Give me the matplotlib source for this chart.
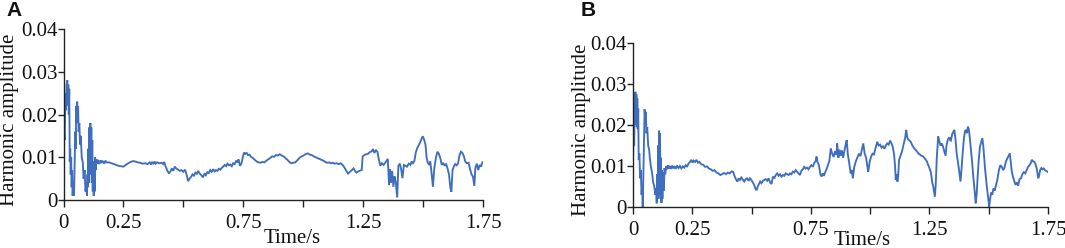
import matplotlib
matplotlib.use("Agg")
import matplotlib.pyplot as plt

# ---------------- data ----------------
time_a = [0.000,0.002,0.005,0.008,0.010,0.013,0.016,0.018,0.020,0.022,0.024,0.026,0.028,0.030,0.032,0.034,0.036,0.038,0.041,0.044,
0.047,0.049,0.051,0.053,0.055,0.057,0.059,0.061,0.063,0.066,0.069,0.072,0.076,0.080,0.084,0.088,0.092,0.095,0.098,0.100,
0.102,0.104,0.106,0.108,0.110,0.112,0.114,0.116,0.118,0.120,0.122,0.124,0.126,0.128,0.130,0.132,0.134,0.137,0.140,0.143,
0.147,0.150,0.154,0.158,0.162,0.166,0.170,0.175,0.180,0.190,0.200,0.210,0.220,0.230,0.240,0.250,0.260,0.270,0.280,0.290,
0.300,0.310,0.320,0.330,0.340,0.350,0.360,0.365,0.370,0.375,0.380,0.385,0.390,0.400,0.410,0.415,0.420,0.425,0.432,0.440,
0.447,0.452,0.458,0.464,0.470,0.478,0.485,0.492,0.500,0.507,0.514,0.520,0.526,0.532,0.538,0.544,0.550,0.556,0.562,0.568,
0.575,0.582,0.588,0.594,0.600,0.606,0.612,0.618,0.624,0.630,0.636,0.642,0.648,0.654,0.660,0.666,0.672,0.678,0.684,0.690,
0.696,0.702,0.708,0.714,0.720,0.726,0.730,0.736,0.742,0.748,0.753,0.758,0.764,0.770,0.776,0.782,0.790,0.798,0.806,0.814,
0.822,0.830,0.838,0.846,0.854,0.862,0.870,0.878,0.886,0.894,0.902,0.910,0.918,0.926,0.934,0.942,0.950,0.958,0.966,0.974,
0.982,0.990,0.998,1.006,1.014,1.020,1.028,1.036,1.044,1.052,1.060,1.068,1.076,1.084,1.092,1.100,1.108,1.116,1.124,1.132,
1.140,1.148,1.156,1.164,1.172,1.180,1.187,1.195,1.203,1.210,1.216,1.222,1.230,1.238,1.244,1.248,1.255,1.262,1.270,1.278,
1.286,1.291,1.297,1.303,1.310,1.316,1.322,1.328,1.335,1.342,1.348,1.353,1.358,1.362,1.366,1.371,1.376,1.381,1.386,1.392,
1.397,1.403,1.408,1.414,1.420,1.427,1.433,1.440,1.447,1.452,1.458,1.464,1.470,1.476,1.482,1.488,1.494,1.499,1.505,1.510,
1.515,1.520,1.526,1.530,1.536,1.541,1.547,1.554,1.560,1.566,1.572,1.578,1.584,1.590,1.596,1.602,1.608,1.614,1.618,1.623,
1.628,1.634,1.640,1.646,1.652,1.658,1.664,1.670,1.676,1.682,1.690,1.696,1.702,1.708,1.714,1.718,1.724,1.730,1.736,1.742,
1.747]
amp_a = [0.000,0.016,0.014,0.025,0.021,0.027,0.028,0.022,0.027,0.020,0.026,0.009,0.012,0.006,0.010,0.003,0.007,0.001,0.004,0.001,
0.010,0.016,0.012,0.022,0.018,0.023,0.019,0.022,0.016,0.018,0.013,0.015,0.010,0.009,0.005,0.007,0.002,0.004,0.001,0.006,
0.003,0.012,0.004,0.017,0.006,0.018,0.008,0.017,0.004,0.014,0.002,0.009,0.001,0.008,0.002,0.010,0.007,0.0095,0.0085,0.0094,
0.0084,0.0092,0.0086,0.0093,0.0087,0.0091,0.0085,0.0092,0.0088,0.0088,0.0086,0.0084,0.0082,0.0080,0.0079,0.0078,0.0082,0.0086,0.0089,0.0091,
0.0090,0.0088,0.0087,0.0085,0.0086,0.0084,0.0088,0.0083,0.0089,0.0084,0.0090,0.0085,0.0088,0.0086,0.0087,0.0084,0.0089,0.0080,0.0070,0.0062,
0.0068,0.0074,0.0068,0.0078,0.0074,0.0071,0.0068,0.0070,0.0066,0.0071,0.0058,0.0044,0.0050,0.0054,0.0060,0.0057,0.0064,0.0061,0.0068,0.0062,
0.0058,0.0053,0.0062,0.0058,0.0065,0.0063,0.0070,0.0066,0.0072,0.0067,0.0070,0.0068,0.0073,0.0071,0.0075,0.0078,0.0082,0.0079,0.0085,0.0081,
0.0083,0.0079,0.0086,0.0084,0.0092,0.0088,0.0095,0.0080,0.0085,0.0100,0.0111,0.0108,0.0110,0.0105,0.0106,0.0101,0.0098,0.0094,0.0090,0.0088,
0.0087,0.0089,0.0088,0.0092,0.0095,0.0098,0.0102,0.0101,0.0105,0.0104,0.0107,0.0104,0.0102,0.0098,0.0094,0.0089,0.0086,0.0087,0.0088,0.0092,
0.0097,0.0101,0.0103,0.0106,0.0108,0.0109,0.0106,0.0105,0.0102,0.0100,0.0098,0.0096,0.0094,0.0092,0.0089,0.0087,0.0088,0.0086,0.0087,0.0085,
0.0086,0.0084,0.0086,0.0082,0.0076,0.0068,0.0062,0.0066,0.0070,0.0074,0.0068,0.0064,0.0067,0.0069,0.0070,0.0102,0.0105,0.0107,0.0108,0.0112,
0.0114,0.0119,0.0110,0.0117,0.0112,0.0093,0.0080,0.0086,0.0082,0.0087,0.0092,0.0096,0.0035,0.0072,0.0040,0.0068,0.0031,0.0055,0.0042,0.0006,
0.0080,0.0085,0.0074,0.0051,0.0082,0.0080,0.0078,0.0085,0.0082,0.0090,0.0086,0.0092,0.0112,0.0122,0.0128,0.0135,0.0144,0.0149,0.0140,0.0130,
0.0098,0.0087,0.0082,0.0090,0.0060,0.0031,0.0075,0.0100,0.0113,0.0108,0.0098,0.0082,0.0087,0.0080,0.0085,0.0074,0.0060,0.0028,0.0019,0.0070,
0.0078,0.0084,0.0081,0.0086,0.0105,0.0113,0.0110,0.0103,0.0090,0.0086,0.0087,0.0072,0.0060,0.0055,0.0033,0.0075,0.0085,0.0070,0.0082,0.0078,
0.0088]

time_b = [0.000,0.003,0.005,0.007,0.009,0.010,0.012,0.014,0.016,0.018,0.020,0.022,0.024,0.027,0.030,0.033,0.036,0.039,0.041,0.044,
0.046,0.048,0.049,0.052,0.054,0.057,0.060,0.064,0.068,0.071,0.075,0.080,0.085,0.090,0.094,0.098,0.100,0.102,0.104,0.106,
0.108,0.110,0.112,0.114,0.116,0.118,0.120,0.122,0.124,0.127,0.130,0.133,0.136,0.140,0.144,0.148,0.152,0.156,0.160,0.165,
0.170,0.175,0.180,0.186,0.192,0.198,0.204,0.210,0.216,0.222,0.228,0.234,0.240,0.246,0.251,0.256,0.262,0.268,0.274,0.280,
0.288,0.296,0.304,0.312,0.320,0.328,0.336,0.344,0.352,0.360,0.368,0.376,0.384,0.392,0.400,0.408,0.416,0.422,0.428,0.434,
0.440,0.446,0.451,0.457,0.463,0.469,0.475,0.481,0.487,0.493,0.499,0.505,0.511,0.516,0.521,0.526,0.531,0.536,0.542,0.548,
0.554,0.560,0.566,0.572,0.578,0.584,0.590,0.596,0.602,0.608,0.614,0.620,0.626,0.632,0.638,0.644,0.650,0.656,0.662,0.668,
0.674,0.680,0.686,0.692,0.698,0.704,0.710,0.716,0.722,0.728,0.734,0.740,0.746,0.752,0.758,0.764,0.770,0.774,0.778,0.784,
0.790,0.795,0.800,0.805,0.810,0.816,0.822,0.828,0.834,0.840,0.846,0.852,0.858,0.861,0.866,0.871,0.876,0.881,0.886,0.891,
0.896,0.901,0.906,0.911,0.918,0.923,0.927,0.933,0.940,0.947,0.953,0.959,0.965,0.971,0.977,0.983,0.988,0.992,0.998,1.004,
1.010,1.016,1.022,1.030,1.036,1.042,1.048,1.054,1.060,1.066,1.072,1.078,1.084,1.090,1.096,1.101,1.105,1.108,1.112,1.115,
1.118,1.122,1.128,1.134,1.140,1.144,1.148,1.152,1.156,1.160,1.166,1.172,1.178,1.184,1.190,1.197,1.203,1.210,1.216,1.222,
1.228,1.234,1.240,1.245,1.250,1.256,1.262,1.266,1.270,1.273,1.277,1.281,1.287,1.292,1.297,1.302,1.307,1.313,1.318,1.322,
1.328,1.334,1.340,1.346,1.350,1.355,1.360,1.365,1.370,1.374,1.378,1.381,1.385,1.390,1.395,1.400,1.403,1.408,1.412,1.416,
1.420,1.425,1.430,1.434,1.439,1.442,1.445,1.449,1.454,1.458,1.463,1.468,1.473,1.477,1.481,1.485,1.488,1.492,1.496,1.500,
1.502,1.506,1.510,1.515,1.520,1.525,1.530,1.536,1.543,1.549,1.555,1.561,1.566,1.572,1.578,1.584,1.589,1.593,1.597,1.602,
1.607,1.613,1.619,1.624,1.630,1.636,1.642,1.648,1.654,1.660,1.666,1.672,1.678,1.682,1.687,1.692,1.697,1.702,1.706,1.709,
1.713,1.717,1.722,1.727,1.732,1.737,1.742,1.747]
amp_b = [0.0115,0.0190,0.0150,0.0260,0.0210,0.0281,0.0200,0.0275,0.0195,0.0265,0.0190,0.0240,0.0115,0.0130,0.0070,0.0090,0.0030,0.0050,0.0000,0.0090,
0.0150,0.0200,0.0238,0.0205,0.0232,0.0180,0.0195,0.0150,0.0140,0.0120,0.0100,0.0085,0.0060,0.0050,0.0030,0.0045,0.0009,0.0080,0.0020,0.0150,
0.0030,0.0186,0.0040,0.0180,0.0020,0.0120,0.0010,0.0090,0.0020,0.0085,0.0040,0.0095,0.0080,0.0100,0.0092,0.0102,0.0094,0.0100,0.0093,0.0101,
0.0094,0.0100,0.0093,0.0101,0.0095,0.0100,0.0094,0.0099,0.0096,0.0102,0.0098,0.0106,0.0110,0.0115,0.0108,0.0113,0.0110,0.0115,0.0108,0.0110,
0.0104,0.0103,0.0098,0.0099,0.0094,0.0092,0.0088,0.0090,0.0084,0.0082,0.0078,0.0080,0.0083,0.0080,0.0084,0.0082,0.0087,0.0086,0.0076,0.0068,
0.0062,0.0070,0.0066,0.0072,0.0067,0.0062,0.0068,0.0070,0.0064,0.0070,0.0066,0.0060,0.0054,0.0045,0.0041,0.0050,0.0056,0.0062,0.0058,0.0064,
0.0066,0.0068,0.0064,0.0070,0.0060,0.0056,0.0074,0.0070,0.0078,0.0082,0.0076,0.0080,0.0074,0.0078,0.0076,0.0082,0.0080,0.0078,0.0082,0.0080,
0.0086,0.0084,0.0090,0.0086,0.0082,0.0078,0.0088,0.0092,0.0098,0.0094,0.0096,0.0092,0.0098,0.0102,0.0098,0.0107,0.0112,0.0123,0.0110,0.0102,
0.0080,0.0074,0.0082,0.0076,0.0084,0.0092,0.0102,0.0112,0.0143,0.0130,0.0122,0.0136,0.0128,0.0155,0.0120,0.0140,0.0125,0.0138,0.0120,0.0135,
0.0150,0.0163,0.0128,0.0110,0.0082,0.0090,0.0070,0.0098,0.0112,0.0122,0.0130,0.0124,0.0140,0.0155,0.0130,0.0120,0.0100,0.0086,0.0110,0.0123,
0.0130,0.0128,0.0142,0.0159,0.0150,0.0152,0.0145,0.0148,0.0142,0.0150,0.0155,0.0152,0.0162,0.0155,0.0145,0.0128,0.0100,0.0066,0.0080,0.0062,
0.0075,0.0115,0.0125,0.0135,0.0150,0.0159,0.0170,0.0188,0.0172,0.0165,0.0162,0.0158,0.0150,0.0145,0.0140,0.0136,0.0131,0.0128,0.0125,0.0124,
0.0120,0.0116,0.0110,0.0102,0.0095,0.0085,0.0060,0.0050,0.0035,0.0025,0.0060,0.0120,0.0172,0.0160,0.0150,0.0155,0.0148,0.0135,0.0125,0.0150,
0.0165,0.0170,0.0160,0.0178,0.0182,0.0188,0.0165,0.0130,0.0110,0.0094,0.0075,0.0062,0.0090,0.0130,0.0165,0.0185,0.0188,0.0180,0.0196,0.0190,
0.0170,0.0140,0.0110,0.0080,0.0050,0.0030,0.0009,0.0030,0.0080,0.0115,0.0147,0.0158,0.0168,0.0150,0.0120,0.0090,0.0074,0.0050,0.0030,0.0010,
0.0001,0.0020,0.0035,0.0030,0.0045,0.0040,0.0052,0.0065,0.0090,0.0102,0.0098,0.0090,0.0095,0.0110,0.0118,0.0125,0.0131,0.0110,0.0088,0.0074,
0.0065,0.0054,0.0060,0.0052,0.0068,0.0070,0.0080,0.0085,0.0082,0.0090,0.0098,0.0102,0.0108,0.0115,0.0112,0.0110,0.0105,0.0095,0.0080,0.0070,
0.0078,0.0090,0.0095,0.0092,0.0094,0.0090,0.0088,0.0086]

x_ticks = [0, 0.25, 0.5, 0.75, 1.0, 1.25, 1.5, 1.75]
x_tick_labels = ["0", "0.25", "", "0.75", "", "1.25", "", "1.75"]
y_ticks = [0, 0.01, 0.02, 0.03, 0.04]
y_tick_labels = ["0", "0.01", "0.02", "0.03", "0.04"]
panel_letters = ["A", "B"]
x_label = "Time/s"
y_label = "Harmonic amplitude"

# ---------------- figure ----------------
W, H = 1065, 248
fig = plt.figure(figsize=(W / 100, H / 100), dpi=100)
serif = ["Liberation Serif", "DejaVu Serif"]
line_color = "#3F6EBF"
FS = 15

def px_axes(x0, y_top, x1, y_bot):
    return [x0 / W, 1 - y_bot / H, (x1 - x0) / W, (y_bot - y_top) / H]

specs = [
    dict(rect=px_axes(63.5, 29, 483, 200), t=time_a, v=amp_a,
         ylab=(-0.128, 0.47), xlab=(0.545, -0.225), letter=(14, 11)),
    dict(rect=px_axes(633, 43, 1048, 207), t=time_b, v=amp_b,
         ylab=(-0.123, 0.47), xlab=(0.552, -0.205), letter=(588, 10)),
]

for spec, letter in zip(specs, panel_letters):
    ax = fig.add_axes(spec["rect"])
    ax.plot(spec["t"], spec["v"], color=line_color, lw=1.35, solid_joinstyle="miter")
    ax.set_xlim(0, 1.75)
    ax.set_ylim(0, 0.04)
    ax.set_xticks(x_ticks)
    ax.set_xticklabels(x_tick_labels, family=serif, fontsize=FS)
    ax.set_yticks(y_ticks)
    ax.set_yticklabels(y_tick_labels, family=serif, fontsize=FS)
    ax.tick_params(axis="x", direction="out", length=5, width=1, colors="#222222",
                   labelcolor="#111111", pad=5)
    ax.tick_params(axis="y", direction="out", length=4, width=1, colors="#222222",
                   labelcolor="#111111", pad=0.5)
    for s in ("top", "right"):
        ax.spines[s].set_visible(False)
    for s in ("left", "bottom"):
        ax.spines[s].set_color("#222222")
        ax.spines[s].set_linewidth(1)
    ax.set_ylabel(y_label, family=serif, fontsize=FS, color="#111111")
    ax.yaxis.set_label_coords(*spec["ylab"])
    ax.yaxis.label.set_va("center")
    ax.set_xlabel(x_label, family=serif, fontsize=FS, color="#111111")
    ax.xaxis.set_label_coords(*spec["xlab"])
    ax.xaxis.label.set_va("center")
    lx, ly = spec["letter"]
    fig.text(lx / W, 1 - ly / H, letter, fontsize=15, fontweight="bold",
             family=["Liberation Sans", "DejaVu Sans"], ha="center", va="center",
             color="#111111")

fig.savefig("out.png", dpi=100)
